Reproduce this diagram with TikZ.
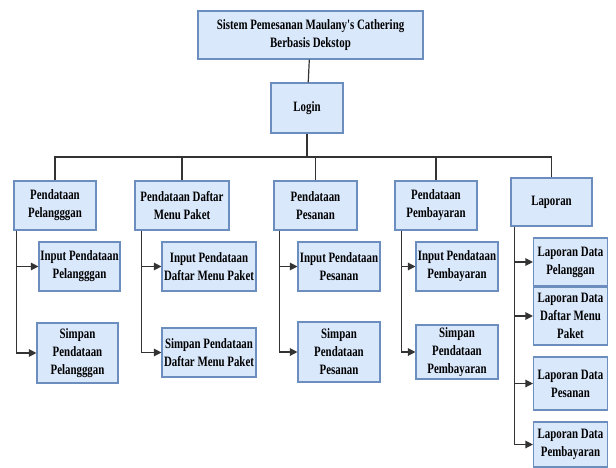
\documentclass[tikz,border=0pt]{standalone}
\usepackage{fontspec}
\newfontfamily\boxfont{Liberation Serif}[FakeStretch=0.76]
\usetikzlibrary{arrows.meta}
\definecolor{boxfill}{HTML}{DAE8FC}
\definecolor{boxline}{HTML}{6C8EBF}
\tikzset{
  box/.style={draw=boxline, fill=boxfill, line width=1.1pt, align=center, inner sep=1pt,
    font=\boxfont\bfseries\fontsize{14.3}{18}\selectfont},
  link/.style={draw=black!80, line width=1.2pt},
  arr/.style={link, -{Triangle[length=7.5pt,width=7.5pt]}}
}

\begin{document}
\begin{tikzpicture}[x=1pt,y=-1pt]
	\useasboundingbox (0,0) rectangle (616,468);
	
	\node[box, minimum width=225pt, minimum height=48pt] (sistem) at (310.5,35) {Sistem Pemesanan Maulany's Cathering\\Berbasis Dekstop};
	\node[box, minimum width=72pt, minimum height=50pt] (login) at (307,108) {Login};
	\coordinate (bus) at (307,157);
	
	\node[box, minimum width=82pt, minimum height=49pt] (dpel) at (55,205.5) {Pendataan\\Pelangggan};
	\node[box, minimum width=94pt, minimum height=49pt] (dmenu) at (182,205.5) {Pendataan Daftar\\Menu Paket};
	\node[box, minimum width=83pt, minimum height=49pt] (dpes) at (315.5,205.5) {Pendataan\\Pesanan};
	\node[box, minimum width=82pt, minimum height=49pt] (dbayar) at (436,205.5) {Pendataan\\Pembayaran};
	\node[box, minimum width=81pt, minimum height=48pt] (lap) at (551.5,202) {Laporan};
	
	\node[box, minimum width=81pt, minimum height=49pt] (ipel) at (79.5,266.5) {Input Pendataan\\Pelangggan};
	\node[box, minimum width=81pt, minimum height=60pt] (spel) at (77.5,353) {Simpan\\Pendataan\\Pelangggan};
	\node[box, minimum width=94pt, minimum height=49pt] (imenu) at (209,266.5) {Input Pendataan\\Daftar Menu Paket};
	\node[box, minimum width=94pt, minimum height=49pt] (smenu) at (209,352.5) {Simpan Pendataan\\Daftar Menu Paket};
	\node[box, minimum width=82pt, minimum height=49pt] (ipes) at (339,266.5) {Input Pendataan\\Pesanan};
	\node[box, minimum width=82pt, minimum height=60pt] (spes) at (339,352) {Simpan\\Pendataan\\Pesanan};
	\node[box, minimum width=82pt, minimum height=49pt] (ibayar) at (457,266.5) {Input Pendataan\\Pembayaran};
	\node[box, minimum width=82pt, minimum height=54pt] (sbayar) at (457,352) {Simpan\\Pendataan\\Pembayaran};
	
	\node[box, minimum width=74pt, minimum height=48pt] (lpel) at (570.5,262) {Laporan Data\\Pelanggan};
	\node[box, minimum width=74pt, minimum height=58pt] (lmenu) at (570.5,316) {Laporan Data\\Daftar Menu\\Paket};
	\node[box, minimum width=74pt, minimum height=53pt] (lpes) at (570.5,383.5) {Laporan Data\\Pesanan};
	\node[box, minimum width=74pt, minimum height=45pt] (lbayar) at (570.5,444.5) {Laporan Data\\Pembayaran};
	
	% tree lines
	\draw[link] (sistem) -- (login);
	\draw[link] (login) -- (bus);
	\draw[link] (dpel.north) |- (bus) -| (lap.north);
	\draw[link] (dmenu.north) -- (dmenu.north |- bus);
	\draw[link] (dpes.north) -- (dpes.north |- bus);
	\draw[link] (dbayar.north) -- (dbayar.north |- bus);
	
	% sub menus
	\draw[arr] ([xshift=3pt]dpel.south west) |- (ipel.west);
	\draw[arr] ([xshift=3pt]dpel.south west) |- (spel.west);
	\draw[arr] ([xshift=7pt]dmenu.south west) |- (imenu.west);
	\draw[arr] ([xshift=7pt]dmenu.south west) |- (smenu.west);
	\draw[arr] ([xshift=6pt]dpes.south west) |- (ipes.west);
	\draw[arr] ([xshift=6pt]dpes.south west) |- (spes.west);
	\draw[arr] ([xshift=7pt]dbayar.south west) |- (ibayar.west);
	\draw[arr] ([xshift=7pt]dbayar.south west) |- (sbayar.west);
	\draw[arr] ([xshift=4pt]lap.south west) |- (lpel.west);
	\draw[arr] ([xshift=4pt]lap.south west) |- (lmenu.west);
	\draw[arr] ([xshift=4pt]lap.south west) |- (lpes.west);
	\draw[arr] ([xshift=4pt]lap.south west) |- (lbayar.west);
\end{tikzpicture}
\end{document}
